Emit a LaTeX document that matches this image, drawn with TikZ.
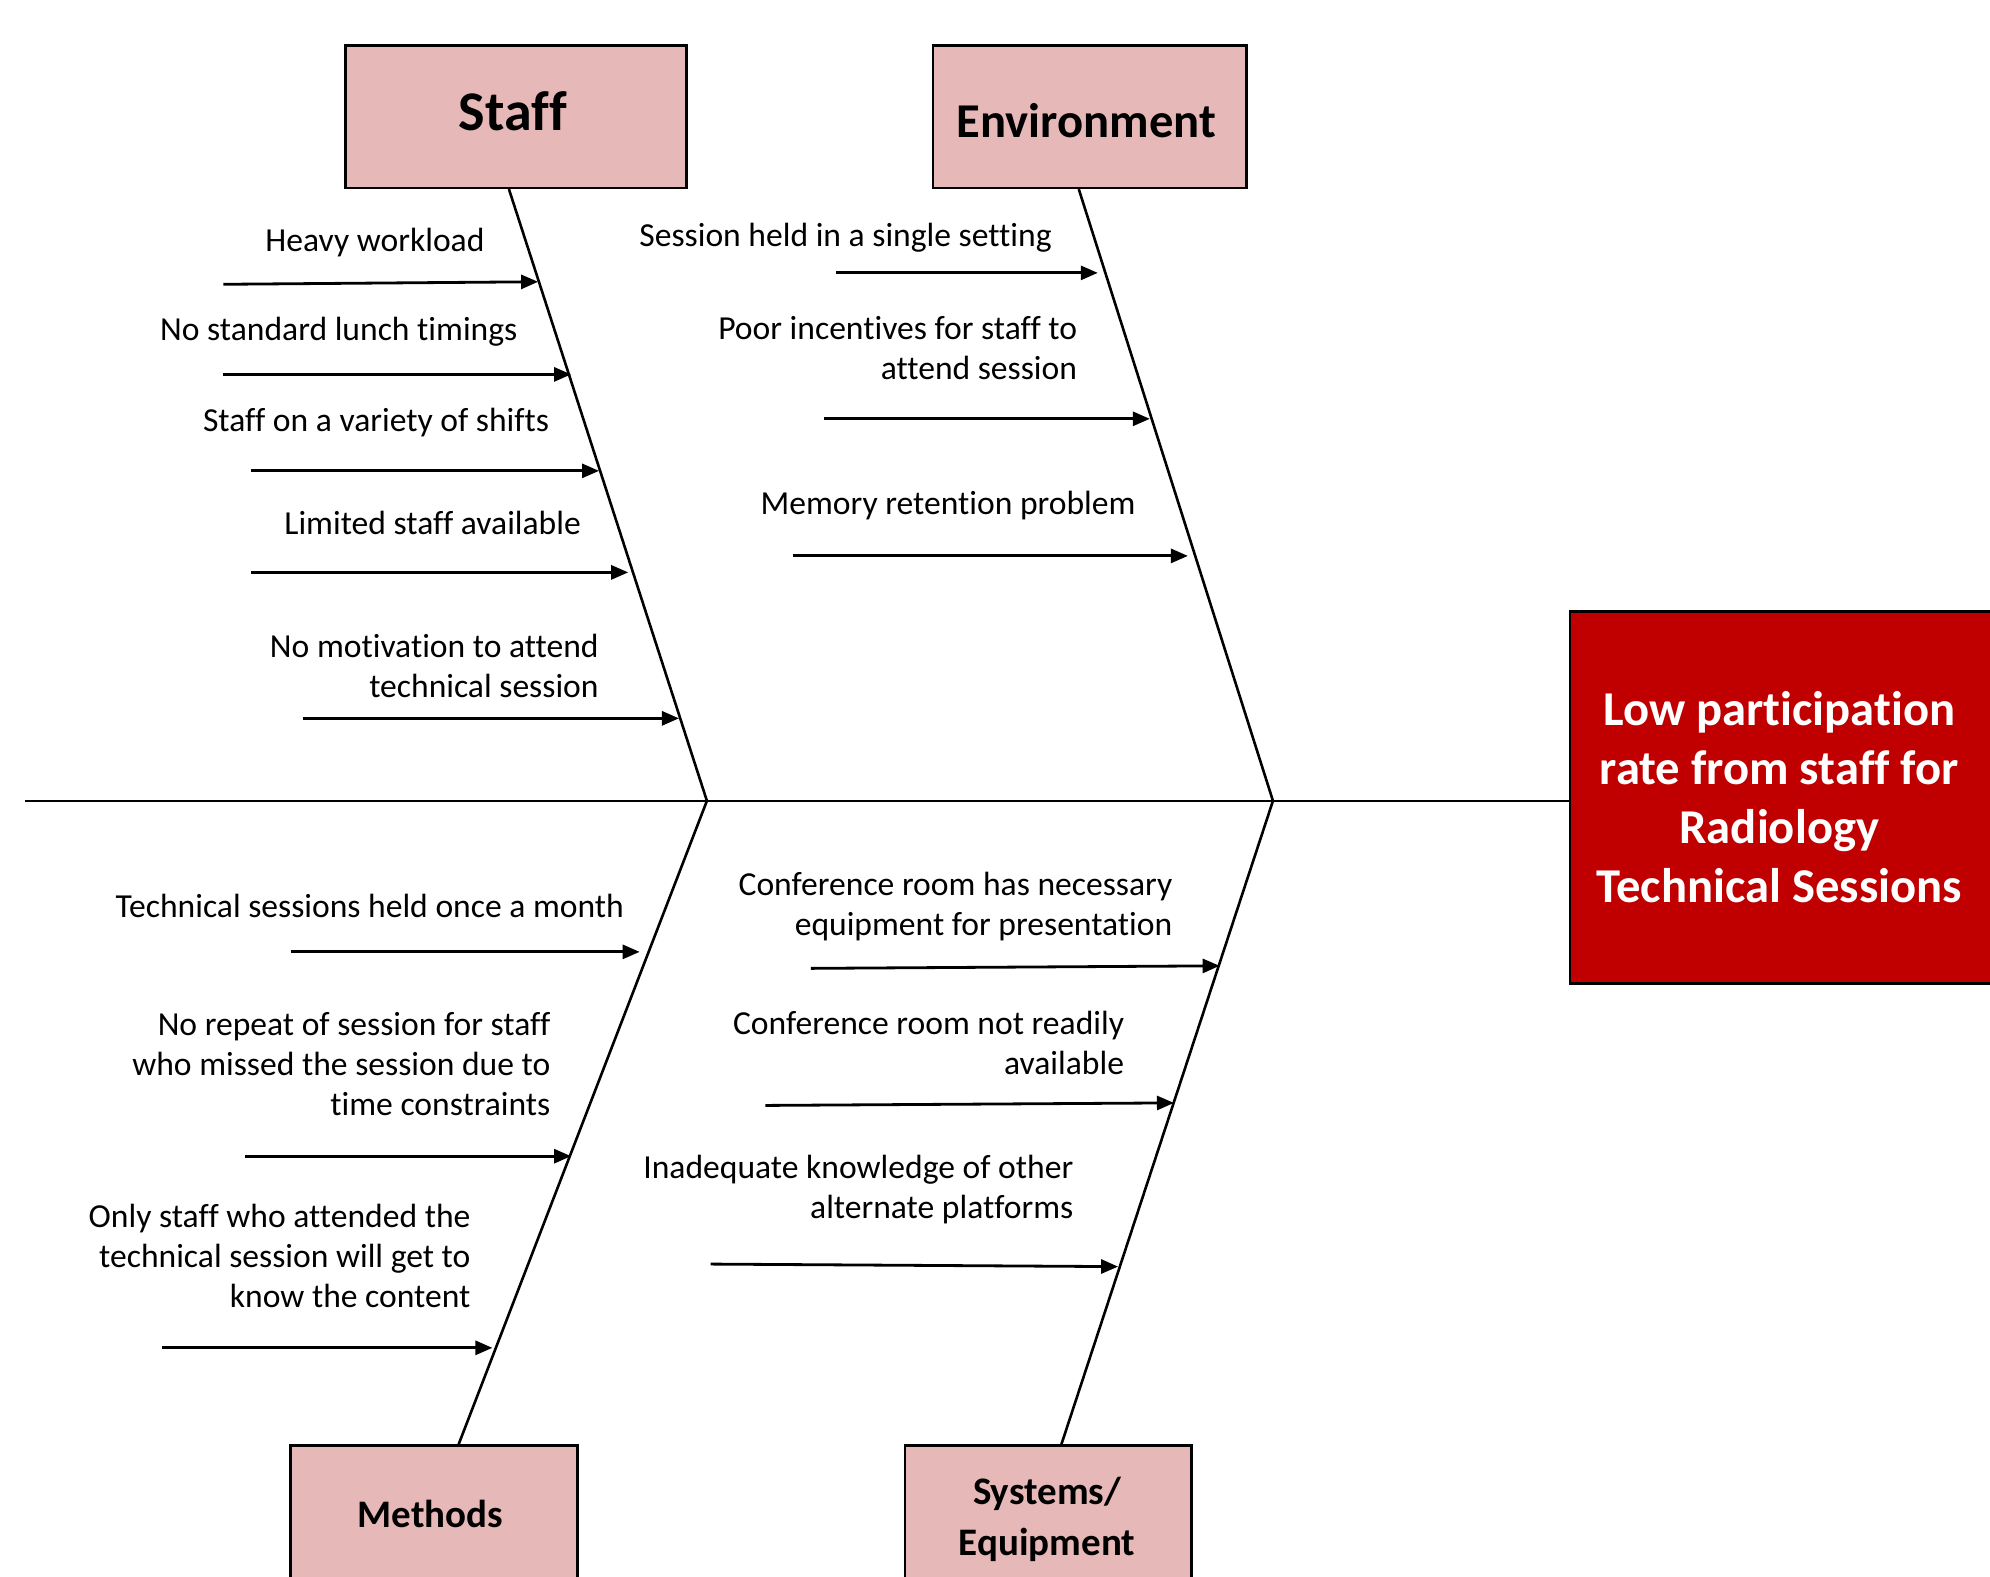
\documentclass[tikz,border=0pt]{standalone}
\usepackage{fontspec}
\setmainfont[Ligatures=NoCommon]{Carlito}
\usetikzlibrary{arrows.meta,fit}
\definecolor{boxpink}{HTML}{E6B8B7}
\definecolor{effred}{HTML}{C00000}
\begin{document}
\begin{tikzpicture}[x=0.6346pt,y=-0.6346pt,
  catbox/.style={draw=black,line width=1.3pt,fill=boxpink,inner sep=0pt},
  bone/.style={line width=1.3pt},
  cause/.style={line width=1.4pt,-{Triangle[length=8.5pt,width=7pt]}},
  lbl/.style={font=\fontsize{16.8}{20}\selectfont,align=right,anchor=east,inner sep=0pt},
  cat/.style={font=\bfseries,align=center,inner sep=0pt},
]
\clip (0,0) rectangle (1568,1242);
\fill[white] (0,0) rectangle (1568,1242);

% category boxes
\node[catbox,fit={(272,36) (541,148)}] (staff) {};
\node[cat,font=\fontsize{28}{32}\bfseries] (staffT) at (404,88) {Staff};
\node[catbox,fit={(735,36) (982,148)}] (env) {};
\node[cat,font=\fontsize{24.3}{29}\bfseries] (envT) at (856,95) {Environment};
\node[catbox,fit={(229,1139) (455,1260)}] (meth) {};
\node[cat,font=\fontsize{19.5}{24}\bfseries] (methT) at (339,1193) {Methods};
\node[catbox,fit={(713,1139) (939,1260)}] (sys) {};
\node[cat,font=\fontsize{19.5}{25.5}\bfseries] (sysT) at (825,1197) {Systems/\\Equipment};

% effect box
\node[draw=black,line width=1.3pt,fill=effred,inner sep=0pt,fit={(1237,482) (1590,775)}] (eff) {};
\node[cat,text=white,font=\fontsize{24.3}{29.6}\bfseries] (effT) at (1402,628) {Low participation\\rate from staff for\\Radiology\\Technical Sessions};

% spine and bones
\coordinate (spineL) at (20,631);
\coordinate (j1) at (557,631);
\coordinate (j2) at (1003,631);
\coordinate (spineR) at (1237,631);
\coordinate (sTop) at (401,149);
\coordinate (eTop) at (850,149);
\coordinate (mBot) at (361,1139);
\coordinate (yBot) at (836,1139);
\draw[bone] (spineL) -- (j1) -- (j2) -- (spineR);
\draw[bone] (sTop) -- (j1);
\draw[bone] (eTop) -- (j2);
\draw[bone] (mBot) -- (j1);
\draw[bone] (yBot) -- (j2);

% Staff causes
\node[lbl] (s1) at (382,191) {Heavy workload};
\node[lbl] (s2) at (408,261) {No standard lunch timings};
\node[lbl] (s3) at (433,333) {Staff on a variety of shifts};
\node[lbl] (s4) at (458,412) {Limited staff available};
\node[lbl] (s5) at (472,524.5) {No motivation to attend\\technical session};
\coordinate (sa1) at (176,224); \coordinate (st1) at (424,222);
\coordinate (sa2) at (176,295); \coordinate (st2) at (450,295);
\coordinate (sa3) at (198,371); \coordinate (st3) at (472,371);
\coordinate (sa4) at (198,451); \coordinate (st4) at (495,451);
\coordinate (sa5) at (239,566); \coordinate (st5) at (535,566);
\foreach \i in {1,...,5} {\draw[cause] (sa\i) -- (st\i);}

% Environment causes
\node[lbl] (e1) at (829,187) {Session held in a single setting};
\node[lbl] (e2) at (849,274.5) {Poor incentives for staff to\\attend session};
\node[lbl] (e3) at (895,398) {Memory retention problem};
\coordinate (ea1) at (659,215); \coordinate (et1) at (865,215);
\coordinate (ea2) at (649,330); \coordinate (et2) at (906,330);
\coordinate (ea3) at (625,438); \coordinate (et3) at (936,438);
\foreach \i in {1,2,3} {\draw[cause] (ea\i) -- (et\i);}

% Methods causes
\node[lbl] (m1) at (492,714) {Technical sessions held once a month};
\node[lbl] (m2) at (434,838.5) {No repeat of session for staff\\who missed the session due to\\time constraints};
\node[lbl] (m3) at (371,989.5) {Only staff who attended the\\technical session will get to\\know the content};
\coordinate (ma1) at (229,750); \coordinate (mt1) at (504,750);
\coordinate (ma2) at (193,911); \coordinate (mt2) at (450,911);
\coordinate (ma3) at (128,1062); \coordinate (mt3) at (388,1062);
\foreach \i in {1,2,3} {\draw[cause] (ma\i) -- (mt\i);}

% Systems causes
\node[lbl] (y1) at (924,714) {Conference room has necessary\\equipment for presentation};
\node[lbl] (y2) at (886,822) {Conference room not readily\\available};
\node[lbl] (y3) at (846,937) {Inadequate knowledge of other\\alternate platforms};
\coordinate (ya1) at (639,763); \coordinate (yt1) at (961,761);
\coordinate (ya2) at (603,871); \coordinate (yt2) at (925,869);
\coordinate (ya3) at (560,996); \coordinate (yt3) at (881,998);
\foreach \i in {1,2,3} {\draw[cause] (ya\i) -- (yt\i);}
\end{tikzpicture}
\end{document}
